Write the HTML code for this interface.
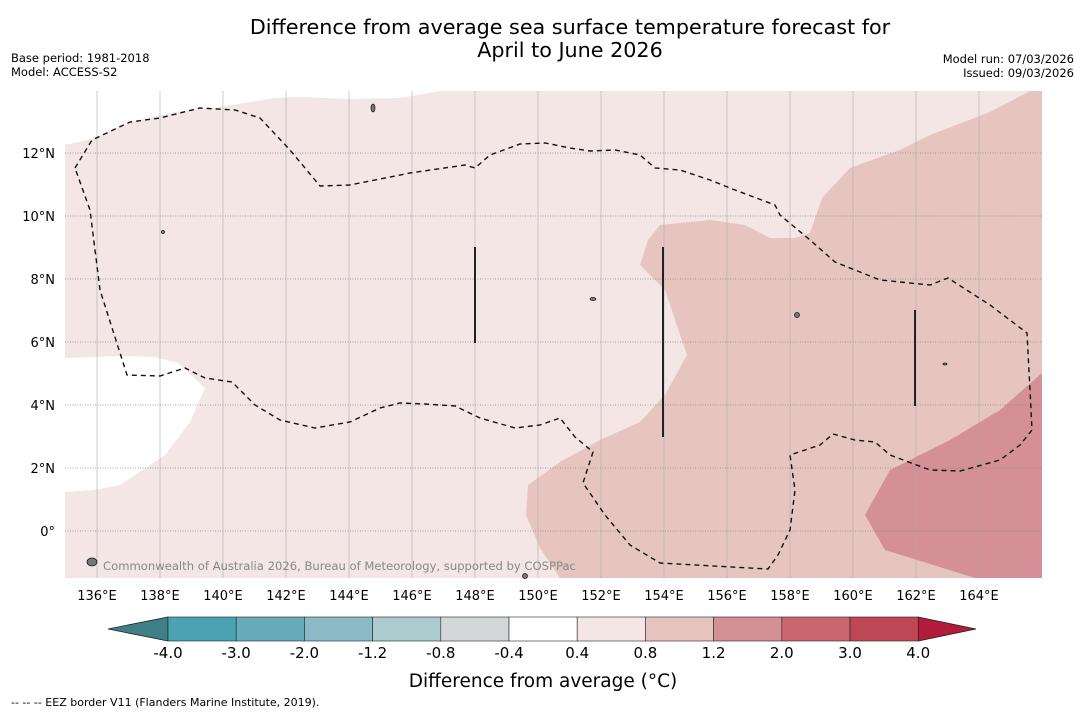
<!DOCTYPE html>
<html><head><meta charset="utf-8"><style>
body{margin:0;background:#fff;width:1085px;height:713px;overflow:hidden;font-family:"Liberation Sans","DejaVu Sans",sans-serif}
</style></head><body>
<svg id="s" width="1085" height="713" xmlns="http://www.w3.org/2000/svg" font-family="DejaVu Sans, Liberation Sans, sans-serif">
<text x="570" y="34" font-size="20.7" text-anchor="middle">Difference from average sea surface temperature forecast for</text>
<text x="570" y="57" font-size="20.7" text-anchor="middle">April to June 2026</text>
<text x="11" y="62" font-size="11.5">Base period: 1981-2018</text>
<text x="11" y="76" font-size="11.5">Model: ACCESS-S2</text>
<text x="1074" y="63" font-size="11.5" text-anchor="end">Model run: 07/03/2026</text>
<text x="1074" y="77" font-size="11.5" text-anchor="end">Issued: 09/03/2026</text>
<g id="map"></g>
<g id="cbar"></g>
<text x="543" y="687" font-size="18.5" text-anchor="middle">Difference from average (°C)</text>
<text x="11" y="706" font-size="11">--  --  -- EEZ border V11 (Flanders Marine Institute, 2019).</text>
</svg>
<script>
const lonTicks=[136,138,140,142,144,146,148,150,152,154,156,158,160,162,164];
const latTicks=[12,10,8,6,4,2,0];
const cbLevels=["-4.0","-3.0","-2.0","-1.2","-0.8","-0.4","0.4","0.8","1.2","2.0","3.0","4.0"];
const cbColors=["#4aa2b3","#67acba","#8bb9c5","#abcbcf","#d3d7d8","#ffffff","#f3e6e5","#e6c5c1","#d48f97","#c96670","#bf4655"];
const NS="http://www.w3.org/2000/svg";
const X0=65,X1=1042,Y0=91,Y1=578;
const lonX=l=>97+(l-136)*31.5;
const latY=l=>531-l*31.5;
const map=document.getElementById('map');
function mk(tag,at,par){const e=document.createElementNS(NS,tag);for(const k in at)e.setAttribute(k,at[k]);(par||map).appendChild(e);return e;}
function pts(a){return a.map(p=>p.join(',')).join(' ');}
let e;
e=mk('rect',{x:X0,y:Y0,width:X1-X0,height:Y1-Y0,fill:'#f3e6e5'});

e=mk('polygon',{points:pts([[65,91],[440,91],[400,98],[350,99],[300,97],[275,98],[220,107],[175,112],[130,122],[95,138],[65,145]]),fill:'#fff'});

e=mk('polygon',{points:pts([[65,358],[120,356],[155,357],[178,363],[205,388],[190,422],[165,455],[120,485],[95,490],[65,492]]),fill:'#fff'});

e=mk('polygon',{points:pts([[1042,91],[1030,91],[990,112],[930,135],[900,150],[880,157],[850,168],[822,198],[810,233],[795,238],[770,238],[745,225],[710,220],[660,225],[648,240],[640,265],[665,290],[675,320],[687,355],[665,395],[640,422],[600,440],[560,462],[528,485],[526,515],[540,548],[560,578],[1042,578]]),fill:'#e6c5c1'});

e=mk('polygon',{points:pts([[1042,373],[1000,410],[950,440],[890,470],[865,515],[885,550],[975,578],[1042,578]]),fill:'#d48f97'});

lonTicks.forEach(l=>{const x=lonX(l);
 e=mk('line',{x1:x,y1:Y0,x2:x,y2:Y1,stroke:'#aaa','stroke-width':0.6});
 
 e=mk('text',{x:x,y:600,'font-size':13,'text-anchor':'middle'});e.textContent=l+'°E';
 });
latTicks.forEach(l=>{const y=latY(l);
 e=mk('line',{x1:X0,y1:y,x2:X1,y2:y,stroke:'#888','stroke-width':0.7,'stroke-dasharray':'1,1.5'});
 
 e=mk('text',{x:55,y:y+5,'font-size':13,'text-anchor':'end'});e.textContent=l===0?'0°':l+'°N';
 });
e=mk('polyline',{points:pts([[75,168],[92,140],[130,122],[160,118],[200,108],[235,110],[260,118],[290,150],[320,186],[350,185],[410,173],[465,165],[475,168],[490,155],[520,144],[545,143],[570,148],[590,151],[615,150],[640,155],[655,168],[680,170],[710,180],[735,190],[775,205],[780,215],[810,240],[835,262],[880,280],[930,285],[948,278],[990,305],[1027,333],[1030,390],[1032,430],[1020,445],[1000,460],[960,471],[930,470],[890,455],[875,442],[855,440],[833,434],[820,445],[790,455],[795,490],[790,530],[778,555],[768,569],[660,563],[630,545],[605,515],[583,483],[593,452],[575,437],[560,418],[540,425],[515,428],[480,418],[455,406],[425,404],[400,403],[380,408],[350,422],[315,428],[280,420],[255,405],[232,382],[205,378],[185,368],[160,376],[127,375],[100,290],[90,210],[75,168]]),fill:'none',stroke:'#111','stroke-width':1.4,'stroke-dasharray':'5,4'});

[[475,247,343],[663,247,437],[915,310,406]].forEach(v=>{e=mk('line',{x1:v[0],y1:v[1],x2:v[0],y2:v[2],stroke:'#222','stroke-width':2});
 });
[[373,108,2,4],[163,232,1.5,1.5],[797,315,2.5,2.5],[945,364,2,1],[593,299,3,1.5],[92,562,5,4],[525,576,2.5,2.5]].forEach(i=>{e=mk('ellipse',{cx:i[0],cy:i[1],rx:i[2],ry:i[3],fill:'#777',stroke:'#111','stroke-width':0.7});
 });
e=mk('text',{x:103,y:570,'font-size':11.6,fill:'#888'});e.textContent='Commonwealth of Australia 2026, Bureau of Meteorology, supported by COSPPac';

const cb=document.getElementById('cbar');
const cbX0=168,cbW=68.2,cbY=617,cbH=24;
e=mk('polygon',{points:pts([[108,629],[168,617],[168,641]]),fill:'#3f8088',stroke:'#222','stroke-width':0.8},cb);

const cbEnd=cbX0+cbColors.length*cbW;
e=mk('polygon',{points:pts([[cbEnd,617],[976,629],[cbEnd,641]]),fill:'#b01c3a',stroke:'#222','stroke-width':0.8},cb);

cbColors.forEach((c,i)=>{e=mk('rect',{x:cbX0+i*cbW,y:cbY,width:cbW,height:cbH,fill:c,stroke:'#222','stroke-width':0.6},cb);
 });
cbLevels.forEach((t,i)=>{e=mk('text',{x:cbX0+i*cbW,y:658,'font-size':15,'text-anchor':'middle'},cb);e.textContent=t;
 });
</script>
</body></html>
